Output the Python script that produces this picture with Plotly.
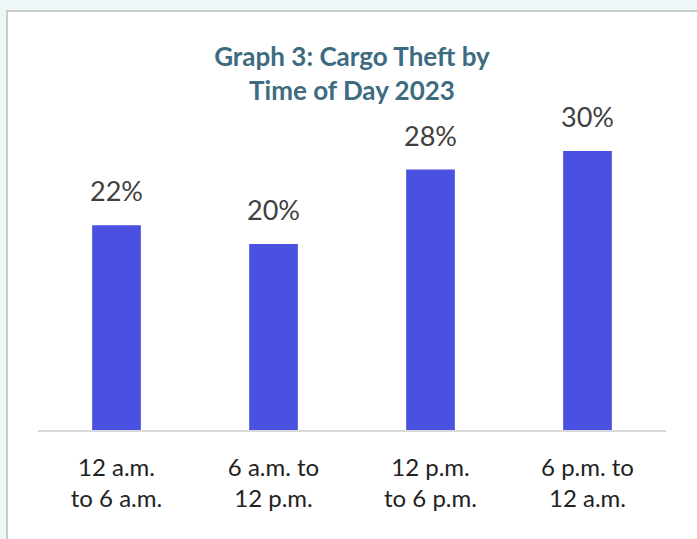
import plotly.graph_objects as go

# data
periods = ["12 a.m.<br>to 6 a.m.", "6 a.m. to<br>12 p.m.", "12 p.m.<br>to 6 p.m.", "6 p.m. to<br>12 a.m."]
theft_share = [22, 20, 28, 30]

bar_color = "#4a50e0"
title_color = "#3d6b80"
text_color = "#404040"

fig = go.Figure()
fig.add_trace(go.Bar(x=periods, y=theft_share, marker_color=bar_color,
                     marker_line_width=0, hoverinfo="skip"))

# value labels above bars
for p, v in zip(periods, theft_share):
    fig.add_annotation(x=p, y=v, text=f"{v}%", showarrow=False, yanchor="bottom",
                       yshift=16, font=dict(family="Lato", size=27, color=text_color))

# page frame: light strip and grey border at top / left
px_x = lambda px: (px - 38) / 628
px_y = lambda py: (430 - py) / 320
fig.add_shape(type="rect", xref="paper", yref="paper", x0=px_x(0), x1=px_x(697),
              y0=px_y(10), y1=px_y(0), fillcolor="#eef7f8", line_width=0, layer="below")
fig.add_shape(type="rect", xref="paper", yref="paper", x0=px_x(0), x1=px_x(6),
              y0=px_y(539), y1=px_y(0), fillcolor="#eef7f8", line_width=0, layer="below")
fig.add_shape(type="line", xref="paper", yref="paper", x0=px_x(6), x1=px_x(697),
              y0=px_y(11), y1=px_y(11), line=dict(color="#cccccc", width=2))
fig.add_shape(type="line", xref="paper", yref="paper", x0=px_x(7), x1=px_x(7),
              y0=px_y(539), y1=px_y(11), line=dict(color="#cccccc", width=2))

fig.update_layout(
    width=697, height=539,
    margin=dict(l=38, r=31, t=110, b=109),
    paper_bgcolor="white", plot_bgcolor="white",
    bargap=0.69, showlegend=False,
    title=dict(text="Graph 3: Cargo Theft by<br>Time of Day 2023", x=0.505, xanchor="center",
               y=1 - 66 / 539, yanchor="top",
               font=dict(family="Lato", size=26, color=title_color, weight="bold")),
    font=dict(family="Lato", color=text_color),
)
fig.update_xaxes(showline=True, linecolor="#d9d9d9", linewidth=2, showgrid=False,
                 ticks="", ticklabelstandoff=15, tickfont=dict(family="Lato", size=24, color="#222222"))
fig.update_yaxes(visible=False, range=[0, 34.4], showgrid=False)

# page has no body margin in the original screenshot
fig.write_html("out.html", config={"displayModeBar": False},
               post_script="document.body.style.margin='0';")
